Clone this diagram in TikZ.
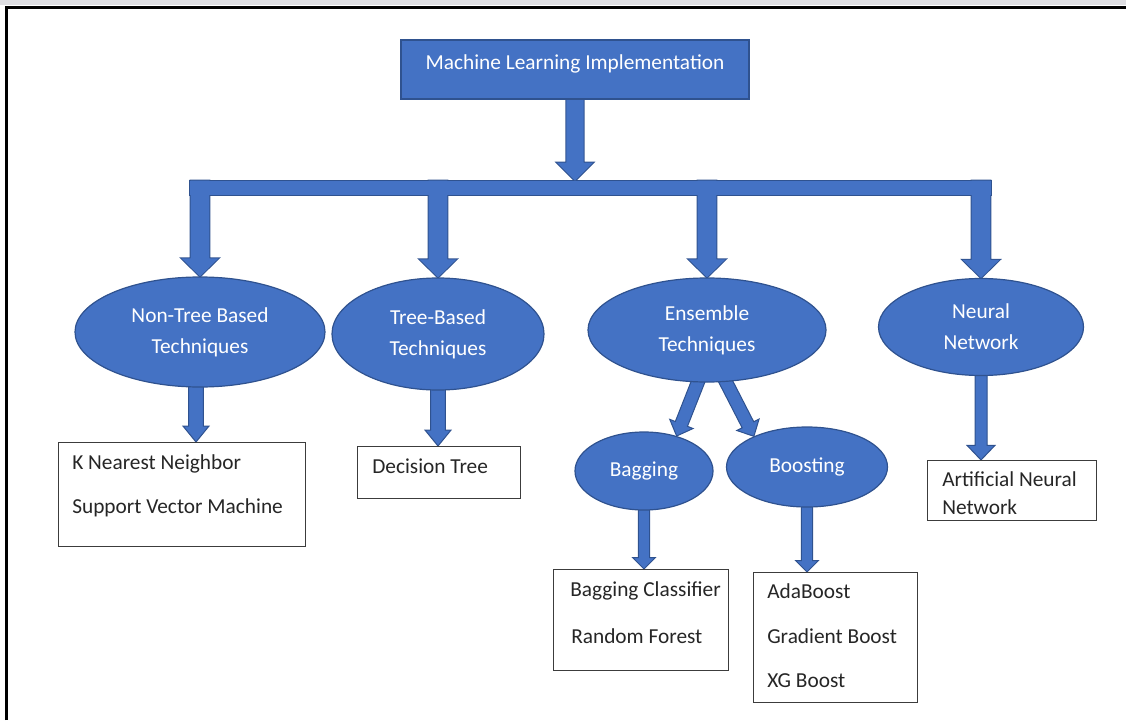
\documentclass[tikz,border=0pt]{standalone}
\usepackage{fontspec}
\setmainfont{Carlito}
\usetikzlibrary{shapes.geometric,calc,backgrounds}
\definecolor{mlfill}{HTML}{4472C4}
\definecolor{mledge}{HTML}{2F528F}
\definecolor{boxedge}{HTML}{3C3C3C}
\definecolor{boxtxt}{HTML}{262626}
\definecolor{topband}{HTML}{DEDEE2}

% block arrow: #1 style, #2 start, #3 tip, #4 shaft half-width, #5 head half-width, #6 head length
\newcommand{\blockarrow}[6]{%
  \coordinate (bahead) at ($(#3)!#6!(#2)$);
  \path[#1] ($(#2)!#4!90:(#3)$) -- ($(bahead)!#4!90:(#3)$) -- ($(bahead)!#5!90:(#3)$) -- (#3)
    -- ($(bahead)!#5!-90:(#3)$) -- ($(bahead)!#4!-90:(#3)$) -- ($(#2)!#4!-90:(#3)$) -- cycle;}

\begin{document}
\begin{tikzpicture}[x=0.75pt,y=-0.75pt,
  every node/.style={font=\fontsize{16}{23}\selectfont},
  headbox/.style={rectangle, fill=mlfill, draw=mledge, line width=0.9pt, text=white,
    minimum width=261pt, minimum height=44.25pt, inner sep=0pt, text depth=11pt},
  topic/.style={ellipse, fill=mlfill, draw=mledge, line width=0.9pt, text=white,
    align=center, inner sep=0pt},
  leaf/.style={rectangle, draw=boxedge, line width=1.1pt, fill=white, inner sep=0pt, anchor=north west},
  item/.style={anchor=base west, inner sep=0pt, text=boxtxt},
  arrowedge/.style={draw=mledge, line width=1.5pt, line join=miter},
  arrowfill/.style={fill=mlfill},
  smallarrow/.style={fill=mlfill, draw=mledge, line width=0.75pt, line join=miter},
]
\useasboundingbox (0,0) rectangle (1126,720);

% frame
\fill[topband] (0,0) rectangle (1126,5.5);
\draw[line width=2.25pt, black] (6.5,720) -- (6.5,7.5) -- (1126,7.5);

% title
\node[headbox] (ml) at (575,69.5) {Machine Learning Implementation};

% distribution bar
\node[inner sep=0pt, minimum width=600.75pt, minimum height=10.5pt] (bar) at (590.5,188) {};

% technique families
\node[topic, minimum width=187.5pt, minimum height=82.5pt] (nt) at (200,332) {Non-Tree Based\\Techniques};
\node[topic, minimum width=159pt, minimum height=84pt] (tb) at (438,334) {Tree-Based\\Techniques};
\node[topic, minimum width=178.5pt, minimum height=78pt] (ens) at (707,330) {Ensemble\\Techniques};
\node[topic, minimum width=153.75pt, minimum height=72.75pt] (nn) at (981,327) {Neural\\Network};

% ensemble sub-types
\node[topic, minimum width=103.5pt, minimum height=58.5pt] (bag) at (644,471) {Bagging};
\node[topic, minimum width=120.75pt, minimum height=60pt] (boo) at (807,467) {Boosting};

% algorithm lists
\node[leaf, minimum width=185.25pt, minimum height=78pt] (knn) at (58,442) {};
\node[item] (knn1) at (72,469) {K Nearest Neighbor};
\node[item] (knn2) at (72,513) {Support Vector Machine};

\node[leaf, minimum width=122.25pt, minimum height=39pt] (dt) at (357,446) {};
\node[item] (dt1) at (372,473) {Decision Tree};

\node[leaf, minimum width=131.25pt, minimum height=75.75pt] (bc) at (553,569) {};
\node[item] (bc1) at (570,596) {Bagging Classifier};
\node[item] (bc2) at (571,643) {Random Forest};

\node[leaf, minimum width=123pt, minimum height=97.5pt] (ada) at (753,572) {};
\node[item] (ada1) at (767,598) {AdaBoost};
\node[item] (ada2) at (767,643) {Gradient Boost};
\node[item] (ada3) at (767,687) {XG Boost};

\node[leaf, minimum width=126.75pt, minimum height=45pt] (ann) at (927,460) {};
\node[item] (ann1) at (942,486) {Artificial Neural};
\node[item] (ann2) at (942,514) {Network};

% connector end points
\coordinate (mlOut) at ($(ml.south)+(0,-3)$);
\coordinate (mlTip) at (ml.south |- bar.north);
\coordinate (ntIn) at (bar.north -| nt.north);
\coordinate (tbIn) at (bar.north -| tb.north);
\coordinate (ensIn) at (bar.north -| ens.north);
\coordinate (nnIn) at (bar.north -| nn.north);
\coordinate (ntOut) at ($(nt.south)+(-4,-3)$);
\coordinate (knnTip) at (knn.north -| ntOut);
\coordinate (tbOut) at ($(tb.south)+(0,-3)$);
\coordinate (dtTip) at (dt.north -| tbOut);
\coordinate (nnOut) at ($(nn.south)+(0,-3)$);
\coordinate (annTip) at (ann.north -| nnOut);
\coordinate (bagOut) at ($(bag.south)+(0,-3)$);
\coordinate (bcTip) at (bc.north -| bagOut);
\coordinate (booOut) at ($(boo.south)+(0,-3)$);
\coordinate (adaTip) at (ada.north -| booOut);
\coordinate (ensL) at ($(ens.-100)!-3pt!(bag.47)$);
\coordinate (ensR) at ($(ens.-70)!-3pt!(boo.150)$);

\begin{pgfonlayer}{background}
  % bar and main arrows: outline pass, then fill pass
  \draw[arrowedge] (bar.north west) rectangle (bar.south east);
  \blockarrow{arrowedge}{mlOut}{mlTip}{6.4pt}{13.5pt}{13.5pt}
  \blockarrow{arrowedge}{ntIn}{nt.north}{7.1pt}{13.8pt}{13.5pt}
  \blockarrow{arrowedge}{tbIn}{tb.north}{7.1pt}{13.8pt}{13.5pt}
  \blockarrow{arrowedge}{ensIn}{ens.north}{7.1pt}{13.8pt}{13.5pt}
  \blockarrow{arrowedge}{nnIn}{nn.north}{7.1pt}{13.8pt}{13.5pt}
  \fill[arrowfill] (bar.north west) rectangle (bar.south east);
  \blockarrow{arrowfill}{mlOut}{mlTip}{6.4pt}{13.5pt}{13.5pt}
  \blockarrow{arrowfill}{ntIn}{nt.north}{7.1pt}{13.8pt}{13.5pt}
  \blockarrow{arrowfill}{tbIn}{tb.north}{7.1pt}{13.8pt}{13.5pt}
  \blockarrow{arrowfill}{ensIn}{ens.north}{7.1pt}{13.8pt}{13.5pt}
  \blockarrow{arrowfill}{nnIn}{nn.north}{7.1pt}{13.8pt}{13.5pt}
  % lower arrows
  \blockarrow{smallarrow}{ntOut}{knnTip}{5.6pt}{9.8pt}{12pt}
  \blockarrow{smallarrow}{tbOut}{dtTip}{5.6pt}{9.8pt}{12pt}
  \blockarrow{smallarrow}{nnOut}{annTip}{4.5pt}{10.5pt}{11pt}
  \blockarrow{smallarrow}{ensL}{bag.47}{4.9pt}{9.4pt}{9.75pt}
  \blockarrow{smallarrow}{ensR}{boo.150}{4.9pt}{9.4pt}{9.75pt}
  \blockarrow{smallarrow}{bagOut}{bcTip}{4.3pt}{8.6pt}{8.6pt}
  \blockarrow{smallarrow}{booOut}{adaTip}{4.3pt}{8.6pt}{8.6pt}
\end{pgfonlayer}
\end{tikzpicture}
\end{document}
